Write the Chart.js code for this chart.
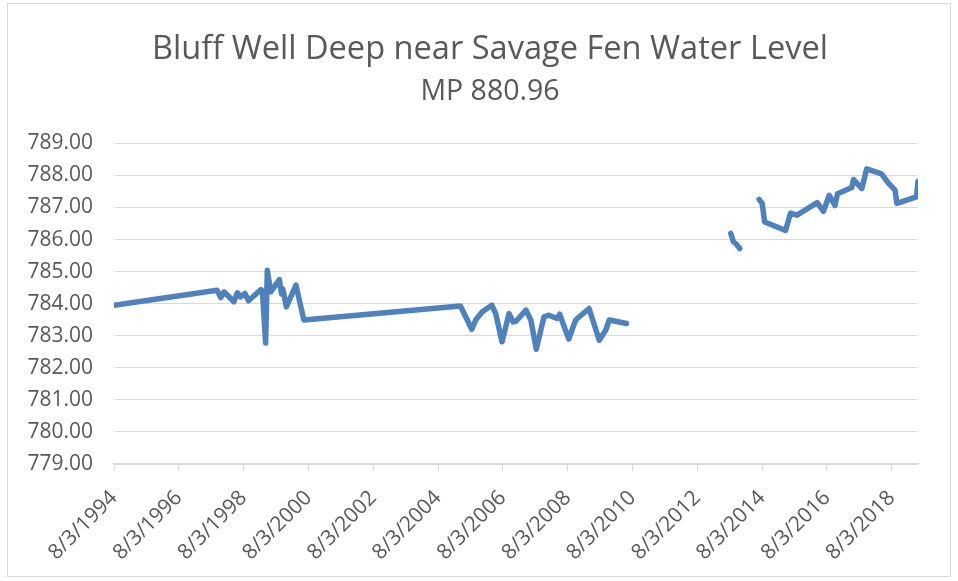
<!DOCTYPE html>
<html>
<head>
<meta charset="utf-8">
<script src="https://cdn.jsdelivr.net/npm/chart.js"></script>
<style>
  html, body { margin: 0; padding: 0; background: #fff; }
  #wrap { width: 958px; height: 581px; }
</style>
</head>
<body>
<div id="wrap"><canvas id="chart"></canvas></div>
<script>
// observation dates and water levels (null = no readings, line breaks)
const obsDates = [
  '1994-08-03', '1997-10-08', '1997-11-18', '1997-12-25', '1998-04-15', '1998-05-25',
  '1998-07-01', '1998-08-18', '1998-09-27', '1999-02-14', '1999-03-03', '1999-04-08',
  '1999-04-27', '1999-06-05', '1999-09-10', '1999-10-05', '1999-10-20', '1999-11-28',
  '2000-03-15', '2000-06-12', '2005-04-12', '2005-06-10', '2005-08-18', '2005-10-01',
  '2005-12-15', '2006-04-01', '2006-05-15', '2006-07-25', '2006-10-12', '2006-11-28',
  '2006-12-30', '2007-04-20', '2007-06-15', '2007-08-15', '2007-11-10', '2008-01-05',
  '2008-04-05', '2008-05-05', '2008-06-25', '2008-08-15', '2008-11-01', '2009-04-01',
  '2009-07-25', '2009-10-05', '2009-11-15', '2010-05-28',
  '2012-01-01',
  '2013-08-15', '2013-09-15', '2013-10-10', '2013-11-25',
  '2014-03-01',
  '2014-07-01', '2014-08-05', '2014-09-01', '2014-10-15', '2015-04-25', '2015-06-20',
  '2015-09-01', '2016-04-15', '2016-06-25', '2016-08-30', '2016-11-01', '2016-12-01',
  '2017-05-10', '2017-05-30', '2017-09-01', '2017-10-25', '2018-04-10', '2018-06-25',
  '2018-09-10', '2018-10-01', '2019-05-10', '2019-05-27'
];
const levels = [
  783.95, 784.42, 784.19, 784.37, 784.06, 784.34,
  784.21, 784.32, 784.09, 784.44, 784.40, 782.77,
  785.04, 784.37, 784.75, 784.30, 784.45, 783.90,
  784.58, 783.49, 783.93, 783.59, 783.20, 783.49,
  783.75, 783.95, 783.69, 782.81, 783.69, 783.43,
  783.45, 783.80, 783.49, 782.58, 783.59, 783.64,
  783.54, 783.67, 783.28, 782.90, 783.49, 783.85,
  782.86, 783.17, 783.49, 783.38,
  null,
  786.19, 785.93, 785.88, 785.72,
  null,
  787.25, 787.12, 786.55, 786.50, 786.28, 786.82,
  786.76, 787.15, 786.88, 787.38, 787.06, 787.43,
  787.62, 787.87, 787.59, 788.20, 788.05, 787.77,
  787.54, 787.13, 787.33, 787.82
];
const tickLabels = [
  '8/3/1994', '8/3/1996', '8/3/1998', '8/3/2000', '8/3/2002', '8/3/2004', '8/3/2006',
  '8/3/2008', '8/3/2010', '8/3/2012', '8/3/2014', '8/3/2016', '8/3/2018'
];
const axisStart = '1994-08-03';
const axisEnd = '2019-05-27';

function mdyToTime(s) {
  const p = s.split('/').map(Number);
  return Date.UTC(p[2], p[0] - 1, p[1]);
}

const textColor = '#595959';
const lineColor = '#d9d9d9';

const frame = {
  id: 'frame',
  // title/subtitle are centred on the whole frame, not on the padded area
  afterLayout(chart) {
    chart.boxes.forEach(b => {
      if (b.options && b.options.text !== undefined) {
        b.left = 22;
        b.right = 958;
        b.width = 936;
      }
    });
  },
  beforeDraw(chart) {
    const c = chart.ctx;
    c.save();
    c.fillStyle = '#fff';
    c.fillRect(0, 0, chart.width, chart.height);
    c.strokeStyle = lineColor;
    c.lineWidth = 1;
    c.strokeRect(7.5, 3.5, 943, 573);
    c.restore();
  }
};

const ctx = document.getElementById('chart').getContext('2d');
new Chart(ctx, {
  type: 'line',
  data: {
    datasets: [{
      data: obsDates.map((d, i) => ({ x: Date.parse(d), y: levels[i] })),
      borderColor: '#4f81bd',
      borderWidth: 5.5,
      borderJoinStyle: 'round',
      borderCapStyle: 'round',
      pointRadius: 0,
      tension: 0,
      spanGaps: false
    }]
  },
  options: {
    responsive: true,
    maintainAspectRatio: false,
    animation: false,
    layout: { padding: { left: 0, right: 40, top: 0, bottom: 0 } },
    plugins: {
      legend: { display: false },
      tooltip: { enabled: false },
      title: {
        display: true,
        text: 'Bluff Well Deep near Savage Fen Water Level',
        color: textColor,
        font: { family: 'Open Sans', size: 32.6, weight: 'normal' },
        padding: { top: 30, bottom: 0 }
      },
      subtitle: {
        display: true,
        text: 'MP 880.96',
        color: textColor,
        font: { family: 'Open Sans', size: 28.5, weight: 'normal' },
        padding: { top: 6, bottom: 34 }
      }
    },
    scales: {
      x: {
        type: 'linear',
        min: Date.parse(axisStart),
        max: Date.parse(axisEnd),
        afterBuildTicks: s => { s.ticks = tickLabels.map(t => ({ value: mdyToTime(t) })); },
        afterFit: s => { s.height = 117; },
        grid: { drawOnChartArea: false, drawTicks: true, tickLength: 7, color: lineColor },
        border: { display: true, color: lineColor, width: 1.5 },
        ticks: {
          autoSkip: false,
          minRotation: 45,
          maxRotation: 45,
          padding: 22,
          color: textColor,
          font: { family: 'Open Sans', size: 21, lineHeight: 0.2 },
          callback: (v, i) => tickLabels[i]
        }
      },
      y: {
        min: 779,
        max: 789,
        afterFit: s => { s.width = 114; },
        grid: { color: lineColor, drawTicks: false },
        border: { display: false },
        ticks: {
          stepSize: 1,
          padding: 21,
          color: textColor,
          font: { family: 'Open Sans', size: 21 },
          callback: v => v.toFixed(2)
        }
      }
    }
  },
  plugins: [frame]
});
</script>
</body>
</html>
